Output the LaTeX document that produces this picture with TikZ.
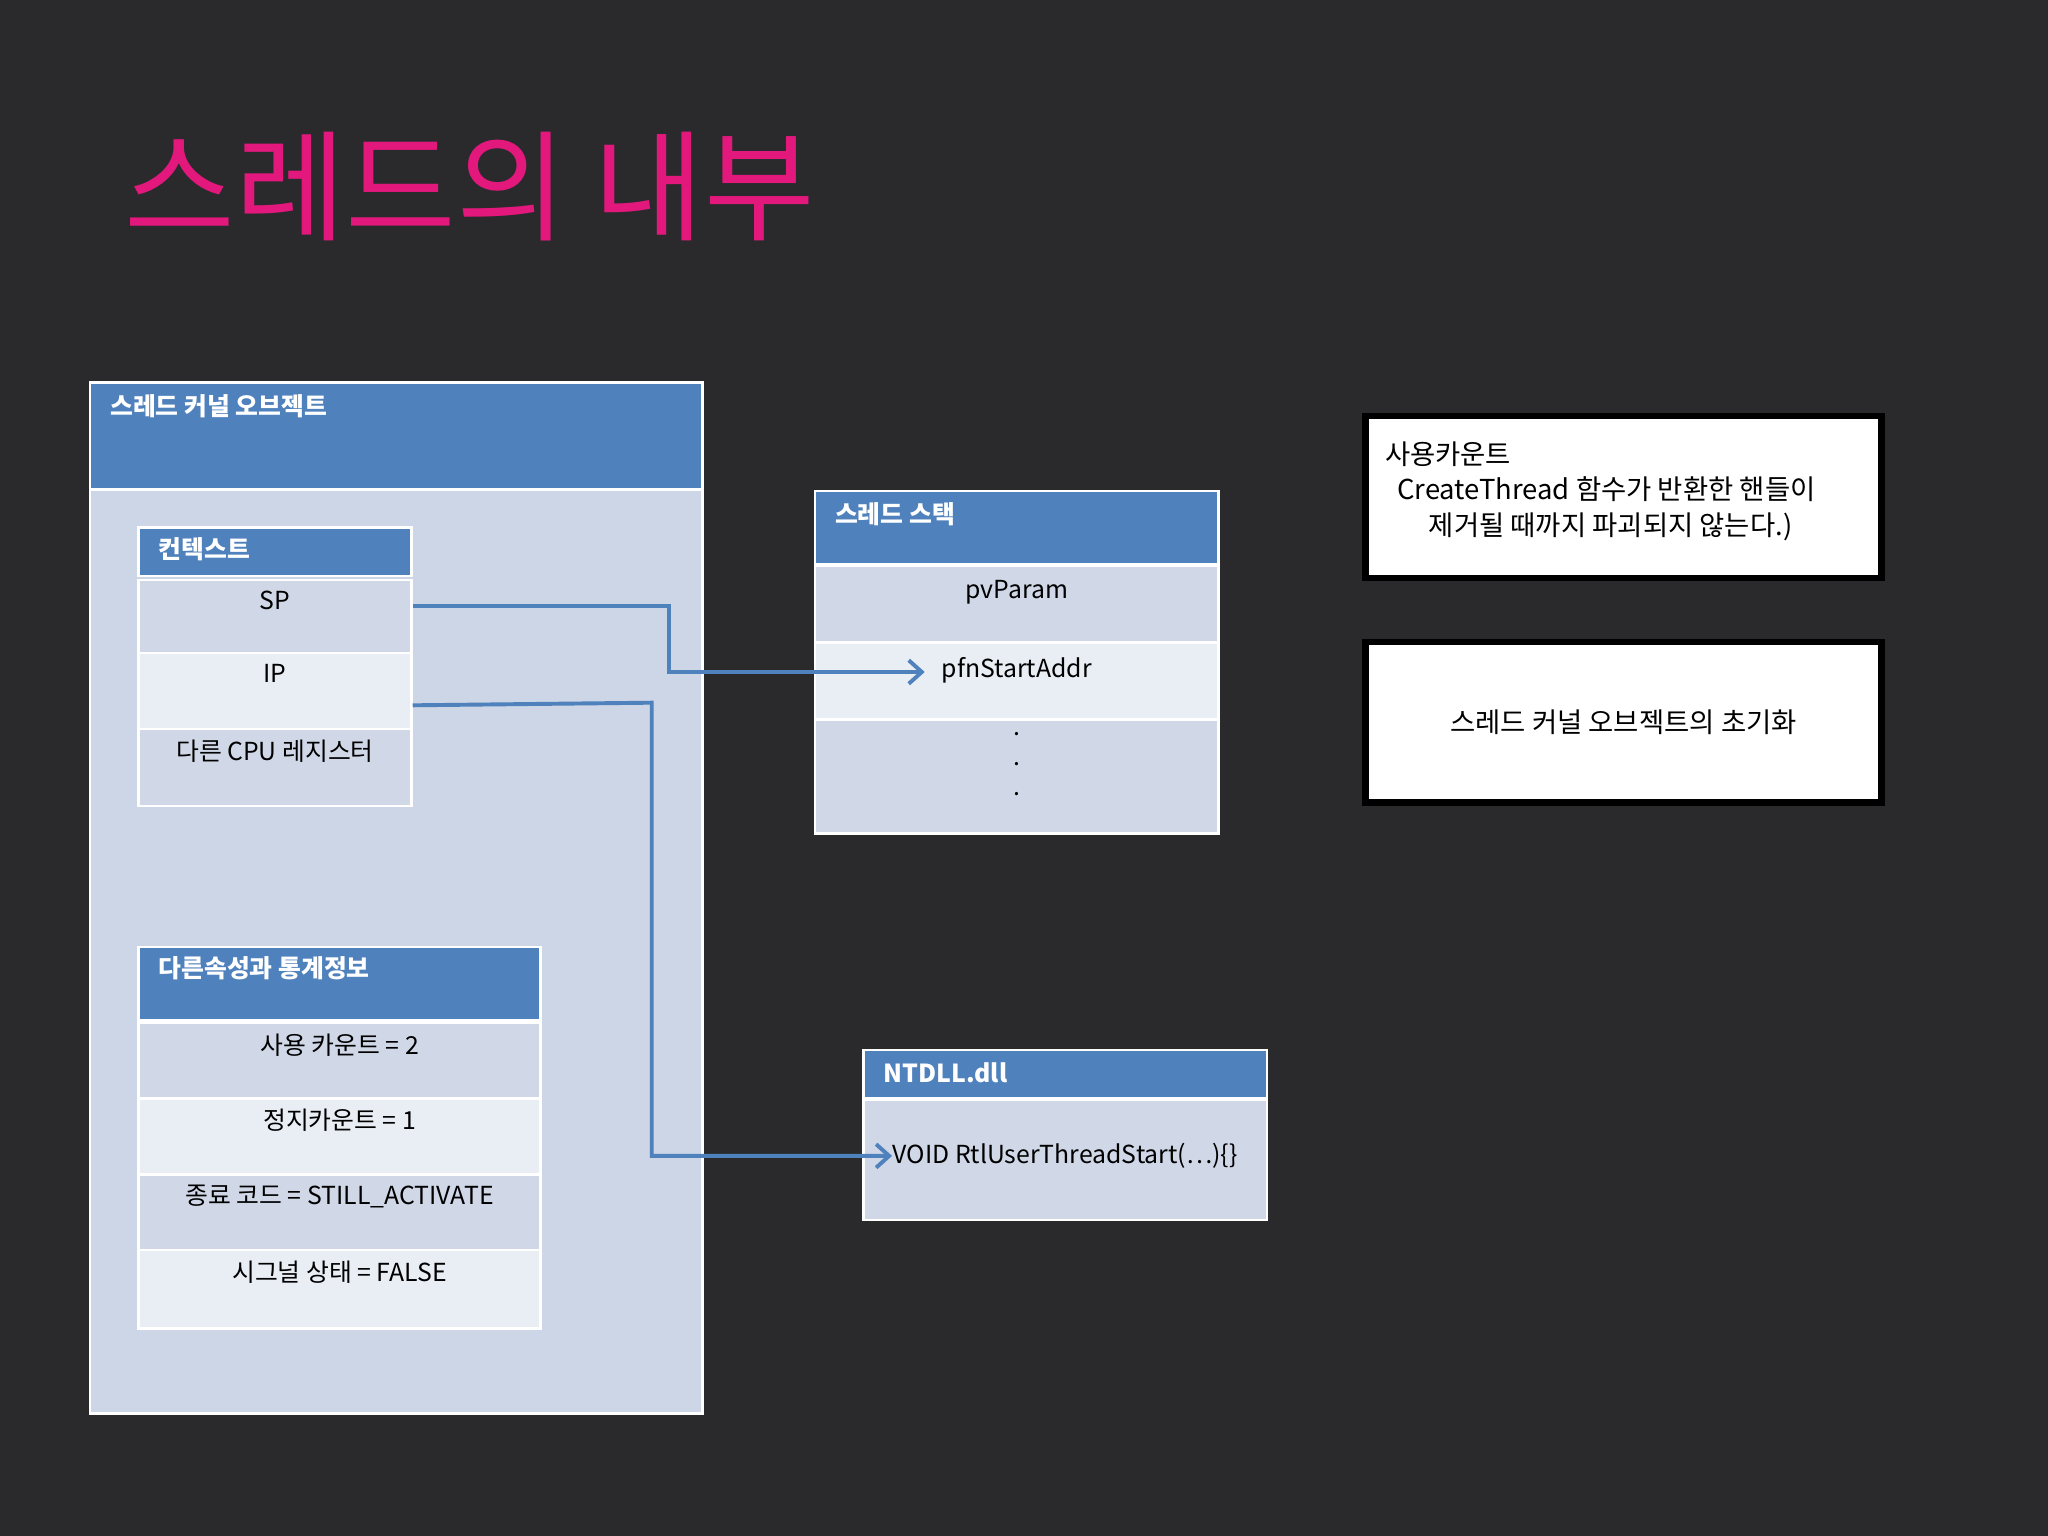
\documentclass[tikz,border=0pt]{standalone}
\usepackage{fontspec}
\setmainfont{Noto Sans CJK KR}
\usetikzlibrary{calc,arrows.meta}
\definecolor{bg}{HTML}{2A2A2D}
\definecolor{pinkt}{HTML}{E3187D}
\definecolor{hdr}{HTML}{4F81BD}
\definecolor{rowd}{HTML}{D0D8E8}
\definecolor{rowl}{HTML}{E9EDF4}
\definecolor{outerb}{HTML}{CDD6E7}
\tikzset{
  box/.style={anchor=north west,inner sep=0pt,draw=white,line width=1pt},
  hbox/.style={box,fill=hdr},
  dbox/.style={box,fill=rowd},
  lbox/.style={box,fill=rowl},
  htxt/.style={anchor=north west,text=white,font=\bfseries\fontsize{9.5}{11}\selectfont,inner sep=0pt},
  rtxt/.style={anchor=north,text=black,font=\fontsize{9.5}{11}\selectfont,inner sep=0pt},
  conn/.style={draw=hdr,line width=1.5pt,-{Straight Barb[length=5pt,width=9pt]}},
  note/.style={anchor=north west,draw=black,fill=white,line width=2.5pt,inner sep=0pt,align=center,font=\fontsize{10.5}{13.5}\selectfont}
}
\begin{document}
\begin{tikzpicture}[x=0.5pt,y=-0.5pt]
\fill[bg] (0,0) rectangle (1568,1176);
\useasboundingbox (0,0) rectangle (1568,1176);
\node[anchor=west,text=pinkt,font=\fontsize{46}{50}\selectfont,inner sep=0pt] (title) at (95,143) {스레드의 내부};
% outer
\node[box,fill=outerb,minimum width=469pt*0.5,minimum height=789pt*0.5] (outer) at (68,292) {};
\node[hbox,minimum width=469pt*0.5,minimum height=82pt*0.5] (outerh) at (68,292) {};
\node[htxt] (outert) at (84,302) {스레드 커널 오브젝트};
% context
\node[hbox,minimum width=209pt*0.5,minimum height=37pt*0.5] (ctxh) at (105,403) {};
\node[htxt] at (121,411) {컨텍스트};
\node[dbox,minimum width=209pt*0.5,minimum height=56pt*0.5] (sp) at (105,443) {};
\node[rtxt] at ($(sp.north)+(0,9)$) {SP};
\node[lbox,minimum width=209pt*0.5,minimum height=58pt*0.5] (ip) at (105,499) {};
\node[rtxt] at ($(ip.north)+(0,9)$) {IP};
\node[dbox,minimum width=209pt*0.5,minimum height=59pt*0.5] (cpu) at (105,557) {};
\node[rtxt] at ($(cpu.north)+(0,9)$) {다른 CPU 레지스터};
% attributes
\node[hbox,minimum width=308pt*0.5,minimum height=56pt*0.5] (ath) at (105,724) {};
\node[htxt] at (121,732) {다른속성과 통계정보};
\node[dbox,minimum width=308pt*0.5,minimum height=58pt*0.5] (a1) at (105,782) {};
\node[rtxt] at ($(a1.north)+(0,9)$) {사용 카운트 = 2};
\node[lbox,minimum width=308pt*0.5,minimum height=58pt*0.5] (a2) at (105,840) {};
\node[rtxt] at ($(a2.north)+(0,9)$) {정지카운트 = 1};
\node[dbox,minimum width=308pt*0.5,minimum height=58pt*0.5] (a3) at (105,898) {};
\node[rtxt] at ($(a3.north)+(0,9)$) {종료 코드 = STILL\_ACTIVATE};
\node[lbox,minimum width=308pt*0.5,minimum height=60pt*0.5] (a4) at (105,956) {};
\node[rtxt] at ($(a4.north)+(0,9)$) {시그널 상태 = FALSE};
% stack
\node[hbox,minimum width=309pt*0.5,minimum height=56pt*0.5] (sth) at (623,375) {};
\node[htxt] at (639,384) {스레드 스택};
\node[dbox,minimum width=309pt*0.5,minimum height=59pt*0.5] (pv) at (623,432) {};
\node[rtxt] at ($(pv.north)+(0,12)$) {pvParam};
\node[lbox,minimum width=309pt*0.5,minimum height=59pt*0.5] (pfn) at (623,491) {};
\node[rtxt] at ($(pfn.north)+(0,12)$) {pfnStartAddr};
\node[dbox,minimum width=309pt*0.5,minimum height=87pt*0.5] (dots) at (623,550) {};
\node[rtxt,align=center,font=\fontsize{9.5}{11.5}\selectfont] at ($(dots.north)+(0,10)$) {.\\.\\.};
% ntdll
\node[hbox,minimum width=309pt*0.5,minimum height=37pt*0.5] (nth) at (660,803) {};
\node[htxt] at (676,813) {NTDLL.dll};
\node[dbox,minimum width=309pt*0.5,minimum height=92pt*0.5] (ntr) at (660,841) {};
\node[rtxt] (vt) at ($(ntr.north)+(0,34)$) {VOID RtlUserThreadStart(…)\{\}};
% notes
\node[note,minimum width=395pt*0.5,minimum height=124pt*0.5] (n1) at (1043,316) {};
\node[anchor=north west,align=left,font=\fontsize{10.5}{13.5}\selectfont,inner sep=0pt] at (1060,338) {사용카운트\\[0pt]\ \ CreateThread 함수가 반환한 핸들이\\[0pt]\hspace*{1.6em}제거될 때까지 파괴되지 않는다.)};
\node[note,minimum width=395pt*0.5,minimum height=123pt*0.5] (n2) at (1043,489) {};
\node[font=\fontsize{10.5}{13.5}\selectfont] at (n2.center) {스레드 커널 오브젝트의 초기화};
% connectors
\coordinate (spo) at ($(sp.north east)+(0,21)$);
\coordinate (ipo) at ($(ip.south east)+(0,-19)$);
\draw[conn] (spo) -- (512,464) |- ($(pfn.west)+(85,-7)$);
\draw[conn] (ipo) -- (499,538) |- ($(ntr.west)+(23,-3)$);
\end{tikzpicture}
\end{document}
